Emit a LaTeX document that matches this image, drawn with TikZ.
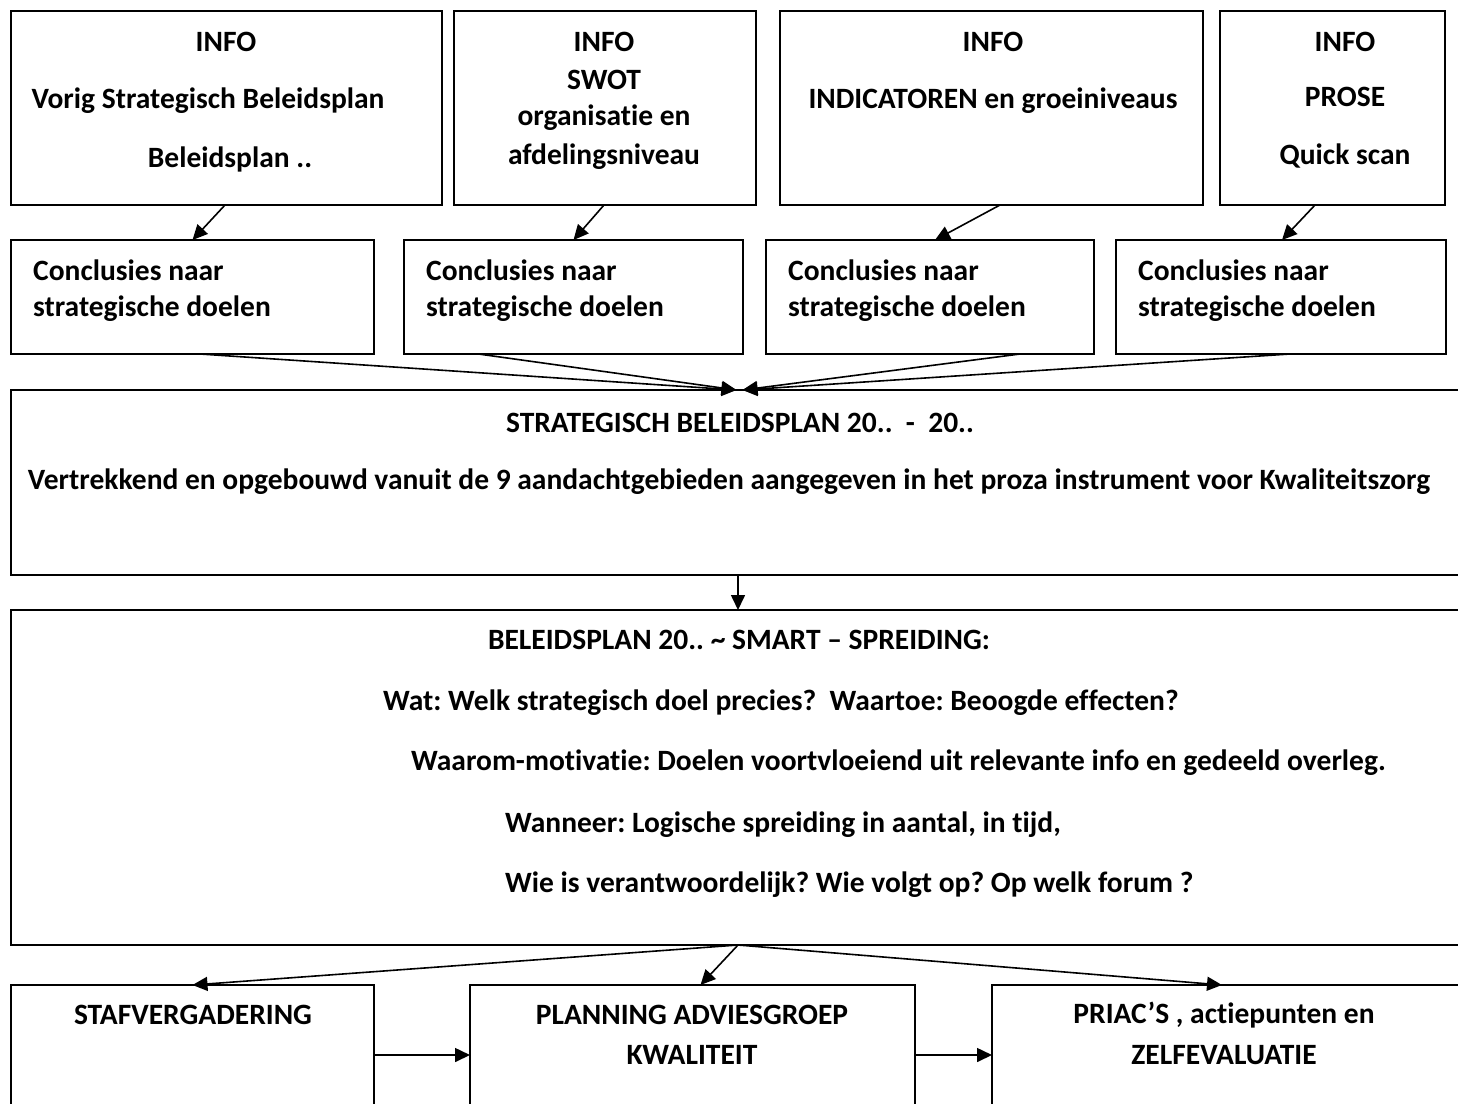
\documentclass[tikz,border=0pt]{standalone}
\usepackage{fontspec}
\setmainfont{Carlito}[Ligatures=NoCommon]
\usetikzlibrary{arrows.meta}
\tikzset{
  box/.style={draw, line width=2pt, rectangle, inner sep=0pt, outer sep=0pt},
  txt/.style={inner sep=0pt, font=\fontsize{29.5}{35}\selectfont\bfseries},
  ltxt/.style={txt, anchor=west},
  arr/.style={line width=1.6pt, -{Triangle[length=15pt,width=14pt]}}
}
\frenchspacing
\begin{document}
\begin{tikzpicture}[x=1pt,y=-1pt]
\useasboundingbox (0,0) rectangle (1458,1103);
\clip (0,0) rectangle (1458,1103);
\fill[white] (0,0) rectangle (1458,1103);
% top row
\node[box, minimum width=431pt, minimum height=194pt] (i1) at (226.5,108) {};
\node[box, minimum width=302pt, minimum height=194pt] (i2) at (605,108) {};
\node[box, minimum width=423pt, minimum height=194pt] (i3) at (991.5,108) {};
\node[box, minimum width=225pt, minimum height=194pt] (i4) at (1332.5,108) {};
% second row
\node[box, minimum width=363pt, minimum height=114pt] (c1) at (192.5,297) {};
\node[box, minimum width=339pt, minimum height=114pt] (c2) at (573.5,297) {};
\node[box, minimum width=328pt, minimum height=114pt] (c3) at (930,297) {};
\node[box, minimum width=330pt, minimum height=114pt] (c4) at (1281,297) {};
% big boxes
\node[box, minimum width=1459pt, minimum height=185pt] (s1) at (740.5,482.5) {};
\node[box, minimum width=1459pt, minimum height=335pt] (s2) at (740.5,777.5) {};
% bottom row
\node[box, minimum width=363pt, minimum height=155pt] (b1) at (192.5,1062.5) {};
\node[box, minimum width=445pt, minimum height=155pt] (b2) at (692.5,1062.5) {};
\node[box, minimum width=478pt, minimum height=155pt] (b3) at (1231,1062.5) {};

% texts top row
\node[txt] (t11) at (226,42) {INFO};
\node[txt] (t12) at (208,101) {Vorig Strategisch Beleidsplan};
\node[txt] (t13) at (230,159) {Beleidsplan ..};
\node[txt] (t21) at (604,42) {INFO};
\node[txt] (t22) at (604,80) {SWOT};
\node[txt] (t23) at (604,118) {organisatie en};
\node[txt] (t24) at (604,157) {afdelingsniveau};
\node[txt] (t31) at (993,42) {INFO};
\node[txt] (t32) at (993,101) {INDICATOREN en groeiniveaus};
\node[txt] (t41) at (1345,42) {INFO};
\node[txt] (t42) at (1345,97) {PROSE};
\node[txt] (t43) at (1345,156) {Quick scan};
% texts second row
\node[ltxt] (u11) at (33,270) {Conclusies naar};
\node[ltxt] (u12) at (33,309) {strategische doelen};
\node[ltxt] (u21) at (426,270) {Conclusies naar};
\node[ltxt] (u22) at (426,309) {strategische doelen};
\node[ltxt] (u31) at (788,270) {Conclusies naar};
\node[ltxt] (u32) at (788,309) {strategische doelen};
\node[ltxt] (u41) at (1138,270) {Conclusies naar};
\node[ltxt] (u42) at (1138,309) {strategische doelen};
% big box texts
\node[txt] (v1) at (740,423) {STRATEGISCH BELEIDSPLAN 20..\ \ -\ \ 20..};
\node[txt] (v2) at (729,482) {Vertrekkend en opgebouwd vanuit de 9 aandachtgebieden aangegeven in het proza instrument voor Kwaliteitszorg};
\node[txt] (w1) at (739,640) {BELEIDSPLAN 20.. \textasciitilde{} SMART – SPREIDING:};
\node[ltxt] (w2) at (383,703) {Wat: Welk strategisch doel precies?\ \ Waartoe: Beoogde effecten?};
\node[ltxt] (w3) at (411,763) {Waarom-motivatie: Doelen voortvloeiend uit relevante info en gedeeld overleg.};
\node[ltxt] (w4) at (505,825) {Wanneer: Logische spreiding in aantal, in tijd,};
\node[ltxt] (w5) at (505,885) {Wie is verantwoordelijk? Wie volgt op? Op welk forum ?};
% bottom texts
\node[txt] (x1) at (193,1015) {STAFVERGADERING};
\node[txt] (x21) at (692,1015) {PLANNING ADVIESGROEP};
\node[txt] (x22) at (692,1055) {KWALITEIT};
\node[txt] (x31) at (1224,1015) {PRIAC’S , actiepunten en};
\node[txt] (x32) at (1224,1055) {ZELFEVALUATIE};

% arrows
\draw[arr] ([xshift=-1.5pt]i1.south) -- (c1.north);
\draw[arr] ([xshift=-1pt]i2.south) -- (c2.north);
\draw[arr] ([xshift=8.5pt]i3.south) -- ([xshift=5pt]c3.north);
\draw[arr] ([xshift=-17.5pt]i4.south) -- ([xshift=1pt]c4.north);
\draw[arr] ([xshift=7.5pt]c1.south) -- ([xshift=-4pt]s1.north);
\draw[arr] ([xshift=-95pt]c2.south) -- ([xshift=-4pt]s1.north);
\draw[arr] ([xshift=90pt]c3.south) -- ([xshift=2pt]s1.north);
\draw[arr] ([xshift=9pt]c4.south) -- ([xshift=2pt]s1.north);
\draw[arr] ([xshift=-2.5pt]s1.south) -- ([xshift=-2.5pt]s2.north);
\draw[arr] ([xshift=-2.5pt]s2.south) -- (b1.north);
\draw[arr] ([xshift=-2.5pt]s2.south) -- ([xshift=8pt]b2.north);
\draw[arr] ([xshift=-2.5pt]s2.south) -- ([xshift=-9pt]b3.north);
\draw[arr] ([yshift=7.5pt]b1.east) -- ([yshift=7.5pt]b2.west);
\draw[arr] ([yshift=7.5pt]b2.east) -- ([yshift=7.5pt]b3.west);
\end{tikzpicture}
\end{document}
